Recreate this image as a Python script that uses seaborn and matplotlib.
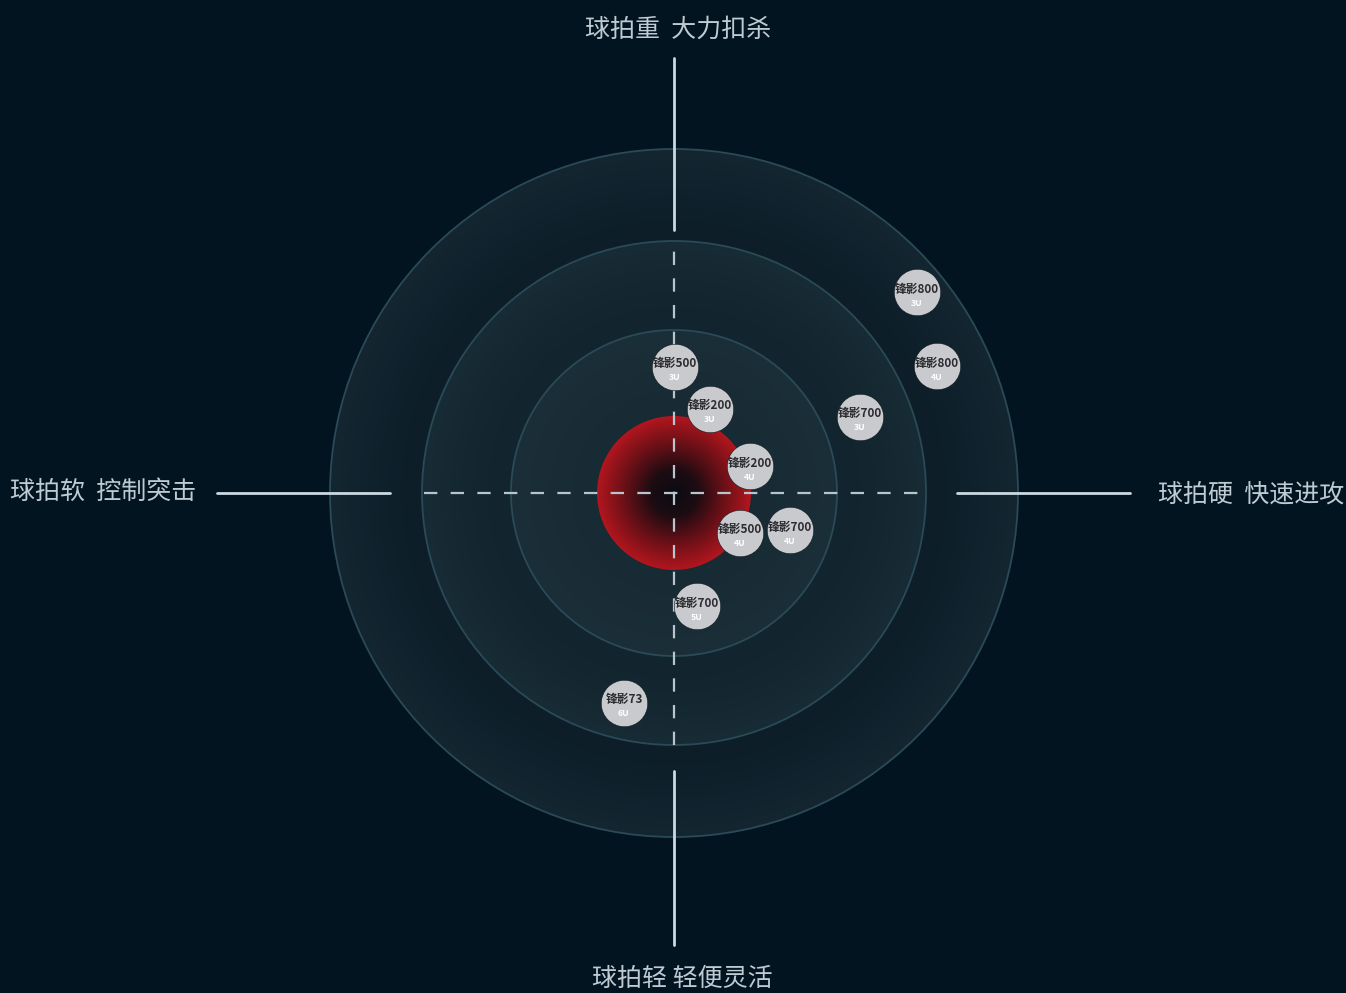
import numpy as np
import pandas as pd
import matplotlib.pyplot as plt
import seaborn as sns
from matplotlib.patches import Circle

#%% Dados (posição relativa ao centro, em px; x = rigidez, y = peso)

nomes = ['锋影800', '锋影800', '锋影700', '锋影500', '锋影200',
         '锋影200', '锋影500', '锋影700', '锋影700', '锋影73']
pesos = ['3U', '4U', '3U', '3U', '3U', '4U', '4U', '4U', '5U', '6U']
rigidez = [243, 263, 186, 1, 36, 76, 66, 116, 23, -50]
peso_eixo = [201, 127, 76, 126, 84, 27, -40, -37, -113, -210]

raios_aneis = [344, 252, 163]
raio_vermelho = 77

rotulos = {'top': '球拍重  大力扣杀', 'bottom': '球拍轻 轻便灵活',
           'left': '球拍软  控制突击', 'right': '球拍硬  快速进攻'}

dados = pd.DataFrame({'nome': nomes, 'peso': pesos, 'x': rigidez, 'y': peso_eixo})

#%% Estilo

sns.set_theme(style='dark')
plt.rcParams['font.family'] = ['Noto Sans CJK SC', 'DejaVu Sans']

fundo = '#031421'
fig = plt.figure(figsize=(13.46, 9.93), dpi=100, facecolor=fundo)
ax = fig.add_axes([0, 0, 1, 1])
ax.set_facecolor(fundo)
ax.set_xlim(-674, 672)
ax.set_ylim(-500, 493)
ax.set_aspect('equal')
ax.axis('off')

#%% Anéis com gradiente leve

xx, yy = np.meshgrid(np.linspace(-360, 360, 721), np.linspace(-360, 360, 721))
rr = np.hypot(xx, yy)
cores_aneis = [('#0d1e29', '#142731'), ('#12252f', '#182c35'), ('#162932', '#1b2f38')]
limites = raios_aneis + [0]
for i, r in enumerate(raios_aneis):
    c0 = np.array(plt.matplotlib.colors.to_rgb(cores_aneis[i][0]))
    c1 = np.array(plt.matplotlib.colors.to_rgb(cores_aneis[i][1]))
    t = np.clip((rr - limites[i + 1]) / (r - limites[i + 1]), 0, 1)[..., None]
    img = c0 + (c1 - c0) * t ** 1.5
    im = ax.imshow(img, extent=(-360, 360, -360, 360), origin='lower', zorder=1 + i)
    clip = Circle((0, 0), r, transform=ax.transData)
    im.set_clip_path(clip)
    ax.add_patch(Circle((0, 0), r, fill=False, ec='#2a4a57', lw=1.3, zorder=1 + i + 0.5))

# círculo vermelho
cmap_vermelho = plt.matplotlib.colors.LinearSegmentedColormap.from_list(
    'verm', [(0, '#0b0c13'), (0.3, '#1c0c12'), (0.65, '#6a1017'), (1, '#b2161e')])
xr, yr = np.meshgrid(np.linspace(-80, 80, 321), np.linspace(-80, 80, 321))
im = ax.imshow(np.hypot(xr, yr) / raio_vermelho, extent=(-80, 80, -80, 80), origin='lower',
               cmap=cmap_vermelho, vmin=0, vmax=1, zorder=5)
im.set_clip_path(Circle((0, 0), raio_vermelho, transform=ax.transData))

#%% Eixos

cor_linha = '#cbd9e2'
ax.plot([-250, 251], [0, 0], ls=(0, (6, 6)), color='#b9c5cc', lw=1.6, zorder=6)
ax.plot([0, 0], [-252, 253], ls=(0, (6, 6)), color='#b9c5cc', lw=1.6, zorder=6)
ax.plot([-457, -284], [0, 0], color=cor_linha, lw=2, zorder=6)
ax.plot([283, 456], [0, 0], color=cor_linha, lw=2, zorder=6)
ax.plot([0, 0], [263, 435], color=cor_linha, lw=2, zorder=6)
ax.plot([0, 0], [-278, -452], color=cor_linha, lw=2, zorder=6)

cor_texto = '#bfcbd3'
tam = 18
ax.text(4, 463, rotulos['top'], ha='center', va='center', fontsize=tam, color=cor_texto,
        fontweight='medium')
ax.text(8, -486, rotulos['bottom'], ha='center', va='center', fontsize=tam, color=cor_texto,
        fontweight='medium')
ax.text(-664, 1, rotulos['left'], ha='left', va='center', fontsize=tam, color=cor_texto,
        fontweight='medium')
ax.text(670, -2, rotulos['right'], ha='right', va='center', fontsize=tam, color=cor_texto,
        fontweight='medium')

#%% Raquetes

sns.scatterplot(data=dados, x='x', y='y', s=1120, color='#c9cacd', edgecolor='#0a151c',
                linewidth=0.4, ax=ax, zorder=10, legend=False)
for _, linha in dados.iterrows():
    ax.text(linha.x, linha.y + 3, linha.nome, ha='center', va='center', fontsize=8.5,
            color='#2b2b30', fontweight='bold', zorder=11)
    ax.text(linha.x, linha.y - 11, linha.peso, ha='center', va='center', fontsize=6.3,
            color='white', fontweight='bold', zorder=11)

ax.set_xlim(-674, 672)
ax.set_ylim(-500, 493)
fig.savefig('out.png', dpi=100, facecolor=fundo)
